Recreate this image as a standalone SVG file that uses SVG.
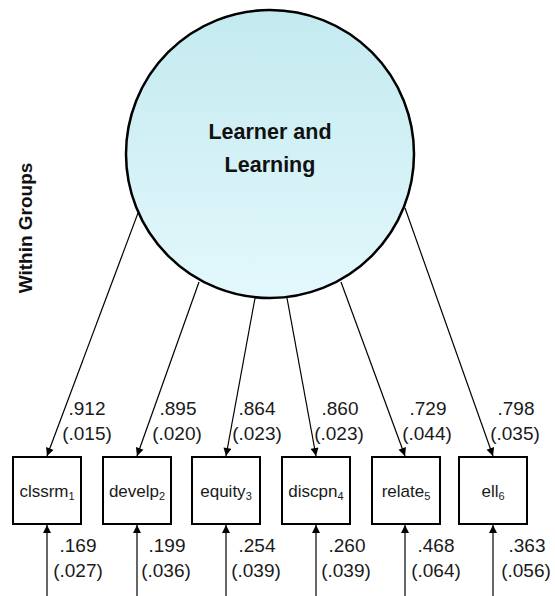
<svg xmlns="http://www.w3.org/2000/svg" width="555" height="596" viewBox="0 0 555 596">
  <defs>
    <linearGradient id="latentFill" x1="0" y1="0" x2="0" y2="1">
      <stop offset="0" stop-color="#c3eaef"/>
      <stop offset="1" stop-color="#e3f8fc"/>
    </linearGradient>
    <marker id="head" viewBox="0 0 10 10" refX="10" refY="5" markerWidth="10" markerHeight="8" markerUnits="userSpaceOnUse" orient="auto">
      <path d="M0,0 L10,5 L0,10 z" fill="#000"/>
    </marker>
    <style>
      .box { fill: #fff; stroke: #000; stroke-width: 2; }
      .latent { fill: url(#latentFill); stroke: #000; stroke-width: 2.5; }
      .edge { stroke: #000; stroke-width: 1.2; fill: none; marker-end: url(#head); }
      .var { font-family: "Liberation Sans", Arial, sans-serif; font-size: 17px; fill: #1a1a1a; text-anchor: middle; }
      .sub { font-size: 11px; }
      .num { font-family: "Liberation Sans", Arial, sans-serif; font-size: 19px; fill: #1a1a1a; text-anchor: middle; }
      .title { font-family: "Liberation Sans", Arial, sans-serif; font-weight: bold; fill: #111; text-anchor: middle; }
    </style>
  </defs>

  <rect width="555" height="596" fill="#fff"/>

  <!-- level label -->
  <text class="title" font-size="19" transform="translate(32,228) rotate(-90)">Within Groups</text>

  <!-- connectors: loadings and residual arrows -->
  <g id="connectors">
    <line class="edge" x1="138" y1="213" x2="47" y2="456"/>
    <line class="edge" x1="199" y1="282" x2="137" y2="456"/>
    <line class="edge" x1="255" y1="298" x2="226" y2="456"/>
    <line class="edge" x1="287" y1="298" x2="316" y2="456"/>
    <line class="edge" x1="341" y1="282" x2="405" y2="456"/>
    <line class="edge" x1="405" y1="208" x2="493" y2="456"/>

    <line class="edge" x1="47" y1="596" x2="47" y2="525"/>
    <line class="edge" x1="137" y1="596" x2="137" y2="525"/>
    <line class="edge" x1="226" y1="596" x2="226" y2="525"/>
    <line class="edge" x1="316" y1="596" x2="316" y2="525"/>
    <line class="edge" x1="405" y1="596" x2="405" y2="525"/>
    <line class="edge" x1="493" y1="596" x2="493" y2="525"/>
  </g>

  <!-- latent factor -->
  <g id="learner">
    <circle class="latent" cx="270" cy="154" r="144"/>
    <text class="title" font-size="21.5" x="270" y="139">Learner and</text>
    <text class="title" font-size="21.5" x="270" y="172">Learning</text>
  </g>

  <!-- indicators -->
  <g id="clssrm">
    <rect class="box" x="13" y="457" width="68" height="67"/>
    <text class="var" x="47" y="497">clssrm<tspan class="sub" dy="3">1</tspan></text>
  </g>
  <g id="develp">
    <rect class="box" x="103" y="457" width="68" height="67"/>
    <text class="var" x="137" y="497">develp<tspan class="sub" dy="3">2</tspan></text>
  </g>
  <g id="equity">
    <rect class="box" x="192" y="457" width="68" height="67"/>
    <text class="var" x="226" y="497">equity<tspan class="sub" dy="3">3</tspan></text>
  </g>
  <g id="discpn">
    <rect class="box" x="282" y="457" width="68" height="67"/>
    <text class="var" x="316" y="497">discpn<tspan class="sub" dy="3">4</tspan></text>
  </g>
  <g id="relate">
    <rect class="box" x="372" y="457" width="68" height="67"/>
    <text class="var" x="406" y="497">relate<tspan class="sub" dy="3">5</tspan></text>
  </g>
  <g id="ell">
    <rect class="box" x="459" y="457" width="68" height="67"/>
    <text class="var" x="493" y="497">ell<tspan class="sub" dy="3">6</tspan></text>
  </g>

  <!-- loading estimates (standard errors) -->
  <g id="loadings">
    <text class="num" x="87" y="415">.912</text>
    <text class="num" x="87" y="440">(.015)</text>
    <text class="num" x="178" y="415">.895</text>
    <text class="num" x="177" y="440">(.020)</text>
    <text class="num" x="257" y="415">.864</text>
    <text class="num" x="257" y="440">(.023)</text>
    <text class="num" x="340" y="415">.860</text>
    <text class="num" x="339" y="440">(.023)</text>
    <text class="num" x="428" y="415">.729</text>
    <text class="num" x="427" y="440">(.044)</text>
    <text class="num" x="516" y="415">.798</text>
    <text class="num" x="515" y="440">(.035)</text>
  </g>

  <!-- residual variances (standard errors) -->
  <g id="residuals">
    <text class="num" x="78" y="552">.169</text>
    <text class="num" x="78" y="577">(.027)</text>
    <text class="num" x="167" y="552">.199</text>
    <text class="num" x="166" y="577">(.036)</text>
    <text class="num" x="257" y="552">.254</text>
    <text class="num" x="256" y="577">(.039)</text>
    <text class="num" x="347" y="552">.260</text>
    <text class="num" x="346" y="577">(.039)</text>
    <text class="num" x="436" y="552">.468</text>
    <text class="num" x="436" y="577">(.064)</text>
    <text class="num" x="527" y="552">.363</text>
    <text class="num" x="526" y="577">(.056)</text>
  </g>
</svg>
